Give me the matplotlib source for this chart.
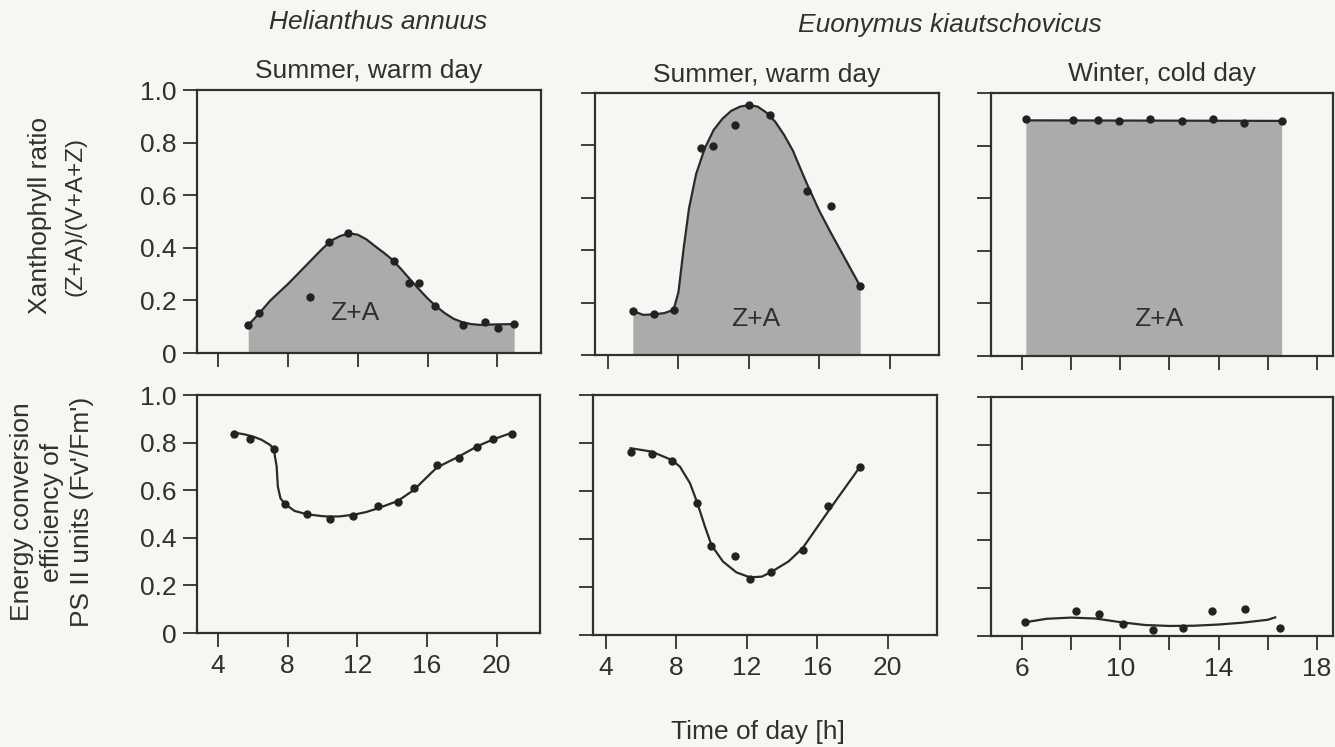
import matplotlib
matplotlib.use("Agg")
import matplotlib.pyplot as plt

plt.rcParams['font.family'] = ['Liberation Sans', 'DejaVu Sans']
ink = '#303030'
bg = '#f6f6f3'
fill_col = '#ababab'

# ---- data ----
# Helianthus annuus, summer: xanthophyll ratio
ha_x_h = [5.73, 6.36, 9.24, 10.34, 11.45, 14.09, 14.91, 15.49, 16.45, 18.02, 19.27, 20.04, 20.96]
ha_x_v = [0.106, 0.151, 0.212, 0.421, 0.455, 0.350, 0.267, 0.267, 0.179, 0.106, 0.119, 0.094, 0.110]
ha_x_curve_h = [5.73, 6.36, 7.0, 8.0, 9.0, 10.0, 10.5, 11.0, 11.5, 12.0, 12.5, 13.0, 13.5, 14.0,
                14.5, 15.0, 15.5, 16.0, 16.5, 17.0, 17.5, 18.0, 18.5, 19.0, 20.0, 20.96]
ha_x_curve_v = [0.106, 0.151, 0.200, 0.262, 0.330, 0.398, 0.428, 0.445, 0.455, 0.450, 0.432, 0.406,
                0.381, 0.354, 0.318, 0.280, 0.243, 0.208, 0.177, 0.151, 0.130, 0.117, 0.110, 0.107,
                0.109, 0.110]

# Euonymus kiautschovicus, summer: xanthophyll ratio
eus_x_h = [5.41, 6.62, 7.72, 9.28, 9.94, 11.20, 12.0, 13.19, 15.32, 16.65, 18.32]
eus_x_v = [0.168, 0.155, 0.172, 0.789, 0.798, 0.878, 0.954, 0.916, 0.627, 0.569, 0.263]
eus_x_curve_h = [5.41, 6.0, 6.62, 7.2, 7.72, 8.0, 8.3, 8.6, 9.0, 9.5, 10.0, 10.5, 11.0, 11.5, 12.0,
                 12.5, 13.0, 13.5, 14.0, 14.5, 15.0, 15.32, 16.0, 16.65, 17.5, 18.32]
eus_x_curve_v = [0.168, 0.153, 0.155, 0.160, 0.172, 0.240, 0.410, 0.560, 0.690, 0.790, 0.859, 0.902,
                 0.932, 0.948, 0.954, 0.948, 0.925, 0.890, 0.840, 0.780, 0.700, 0.650, 0.550, 0.467,
                 0.363, 0.263]

# Euonymus kiautschovicus, winter: xanthophyll ratio
euw_x_h = [6.16, 8.06, 9.08, 9.93, 11.22, 12.50, 13.78, 15.02, 16.56]
euw_x_v = [0.900, 0.897, 0.897, 0.892, 0.901, 0.895, 0.901, 0.887, 0.894]
euw_x_curve_h = [6.16, 16.56]
euw_x_curve_v = [0.896, 0.894]

# Helianthus annuus, summer: Fv'/Fm'
ha_f_h = [4.93, 5.86, 7.21, 7.86, 9.10, 10.43, 11.78, 13.19, 14.33, 15.25, 16.58, 17.82, 18.90, 19.82, 20.90]
ha_f_v = [0.836, 0.814, 0.773, 0.541, 0.499, 0.479, 0.493, 0.535, 0.549, 0.608, 0.706, 0.737, 0.783, 0.815, 0.836]
ha_f_curve_h = [4.93, 5.5, 6.0, 6.5, 7.0, 7.21, 7.37, 7.44, 7.59, 7.86, 8.4, 9.1, 10.0, 10.43, 11.0,
                11.78, 12.5, 13.19, 14.33, 15.25, 16.0, 16.58, 17.82, 18.90, 19.82, 20.90]
ha_f_curve_v = [0.842, 0.835, 0.826, 0.812, 0.790, 0.770, 0.700, 0.615, 0.566, 0.541, 0.513, 0.499,
                0.491, 0.489, 0.490, 0.497, 0.508, 0.524, 0.555, 0.601, 0.655, 0.696, 0.741, 0.785,
                0.814, 0.842]

# Euonymus kiautschovicus, summer: Fv'/Fm'
eus_f_h = [5.40, 6.59, 7.73, 9.18, 9.99, 11.32, 12.17, 13.35, 15.16, 16.61, 18.41]
eus_f_v = [0.764, 0.754, 0.725, 0.551, 0.371, 0.331, 0.232, 0.261, 0.354, 0.539, 0.699]
eus_f_curve_h = [5.40, 6.59, 7.73, 8.20, 8.77, 9.18, 9.62, 9.99, 10.64, 11.40, 12.17, 12.85, 13.35,
                 14.36, 15.16, 16.61, 18.41]
eus_f_curve_v = [0.778, 0.764, 0.729, 0.701, 0.632, 0.551, 0.451, 0.374, 0.306, 0.261, 0.240, 0.243,
                 0.261, 0.306, 0.361, 0.514, 0.699]

# Euonymus kiautschovicus, winter: Fv'/Fm'
euw_f_h = [6.11, 8.18, 9.12, 10.12, 11.31, 12.55, 13.74, 15.09, 16.51]
euw_f_v = [0.057, 0.106, 0.091, 0.050, 0.025, 0.035, 0.106, 0.112, 0.035]
euw_f_curve_h = [6.11, 7.0, 8.0, 9.0, 10.0, 11.0, 12.0, 13.0, 14.0, 15.0, 16.0, 16.3]
euw_f_curve_v = [0.057, 0.072, 0.077, 0.073, 0.058, 0.046, 0.042, 0.043, 0.048, 0.056, 0.068, 0.078]

yticks = [0, 0.2, 0.4, 0.6, 0.8, 1.0]
ytick_labels = ['0', '0.2', '0.4', '0.6', '0.8', '1.0']
summer_xticks = [4, 8, 12, 16, 20]
winter_xticks = [6, 8, 10, 12, 14, 16, 18]
winter_xlabels = ['6', '', '10', '', '14', '', '18']

fig = plt.figure(figsize=(13.35, 7.47), dpi=100, facecolor=bg)

boxes = {
    'tl': [0.1476, 0.5274, 0.2577, 0.3521],
    'tm': [0.4457, 0.5248, 0.2577, 0.3507],
    'tr': [0.7423, 0.5234, 0.2562, 0.3521],
    'bl': [0.1476, 0.1526, 0.2570, 0.3186],
    'bm': [0.4442, 0.1500, 0.2577, 0.3213],
    'br': [0.7423, 0.1486, 0.2562, 0.3199],
}
axs = {k: fig.add_axes(v, facecolor=bg) for k, v in boxes.items()}


def style(ax, xlim, xticks, xlabels, ylabels):
    ax.set_xlim(*xlim)
    ax.set_ylim(0, 1.0)
    ax.set_xticks(xticks)
    ax.set_yticks(yticks)
    if xlabels is None:
        ax.set_xticklabels([])
    else:
        ax.set_xticklabels(xlabels)
    if ylabels:
        ax.set_yticklabels(ytick_labels)
    else:
        ax.set_yticklabels([])
    ax.tick_params(direction='out', length=10, width=1.3, colors=ink, labelsize=19, pad=5)
    for s in ax.spines.values():
        s.set_linewidth(1.6)
        s.set_color(ink)


def panel(ax, px, pv, cx, cv, filled):
    if filled:
        ax.fill_between(cx, 0, cv, color=fill_col, lw=0, zorder=1)
    ax.plot(cx, cv, color='#2a2a2a', lw=1.6, zorder=2)
    ax.plot(px, pv, 'o', color='#222222', ms=5, zorder=3)


panel(axs['tl'], ha_x_h, ha_x_v, ha_x_curve_h, ha_x_curve_v, True)
panel(axs['tm'], eus_x_h, eus_x_v, eus_x_curve_h, eus_x_curve_v, True)
panel(axs['tr'], euw_x_h, euw_x_v, euw_x_curve_h, euw_x_curve_v, True)
panel(axs['bl'], ha_f_h, ha_f_v, ha_f_curve_h, ha_f_curve_v, False)
panel(axs['bm'], eus_f_h, eus_f_v, eus_f_curve_h, eus_f_curve_v, False)
panel(axs['br'], euw_f_h, euw_f_v, euw_f_curve_h, euw_f_curve_v, False)

style(axs['tl'], (2.8, 22.5), summer_xticks, None, True)
style(axs['tm'], (3.26, 22.8), summer_xticks, None, False)
style(axs['tr'], (4.74, 18.65), winter_xticks, None, False)
style(axs['bl'], (2.8, 22.5), summer_xticks, [str(t) for t in summer_xticks], True)
style(axs['bm'], (3.26, 22.8), summer_xticks, [str(t) for t in summer_xticks], False)
style(axs['br'], (4.74, 18.65), winter_xticks, winter_xlabels, False)

# Z+A labels inside the shaded areas
axs['tl'].text(11.84, 0.152, 'Z+A', ha='center', va='center', fontsize=19, color=ink, zorder=4)
axs['tm'].text(12.38, 0.139, 'Z+A', ha='center', va='center', fontsize=19, color=ink, zorder=4)
axs['tr'].text(11.57, 0.141, 'Z+A', ha='center', va='center', fontsize=19, color=ink, zorder=4)

# panel titles
axs['tl'].set_title('Summer, warm day', fontsize=19, color=ink, pad=9)
axs['tm'].set_title('Summer, warm day', fontsize=19, color=ink, pad=8)
axs['tr'].set_title('Winter, cold day', fontsize=19, color=ink, pad=9)

fig.text(378 / 1335, 1 - 22 / 747, 'Helianthus annuus', style='italic', fontsize=19,
         color=ink, ha='center', va='center')
fig.text(950 / 1335, 1 - 25 / 747, 'Euonymus kiautschovicus', style='italic', fontsize=19,
         color=ink, ha='center', va='center')

# y axis labels
fig.text(40 / 1335, 1 - 215 / 747, 'Xanthophyll ratio', rotation=90, fontsize=19,
         color=ink, ha='center', va='center')
fig.text(76 / 1335, 1 - 216 / 747, '(Z+A)/(V+A+Z)', rotation=90, fontsize=17.5,
         color=ink, ha='center', va='center')
fig.text(52 / 1335, 1 - 512 / 747, "Energy conversion\nefficiency of\nPS II units (Fv'/Fm')",
         rotation=90, fontsize=19, color=ink, ha='center', va='center',
         multialignment='center', linespacing=1.3)

fig.text(758 / 1335, 1 - 732 / 747, 'Time of day [h]', fontsize=19, color=ink,
         ha='center', va='center')

fig.savefig('out.png', dpi=100, facecolor=bg)
